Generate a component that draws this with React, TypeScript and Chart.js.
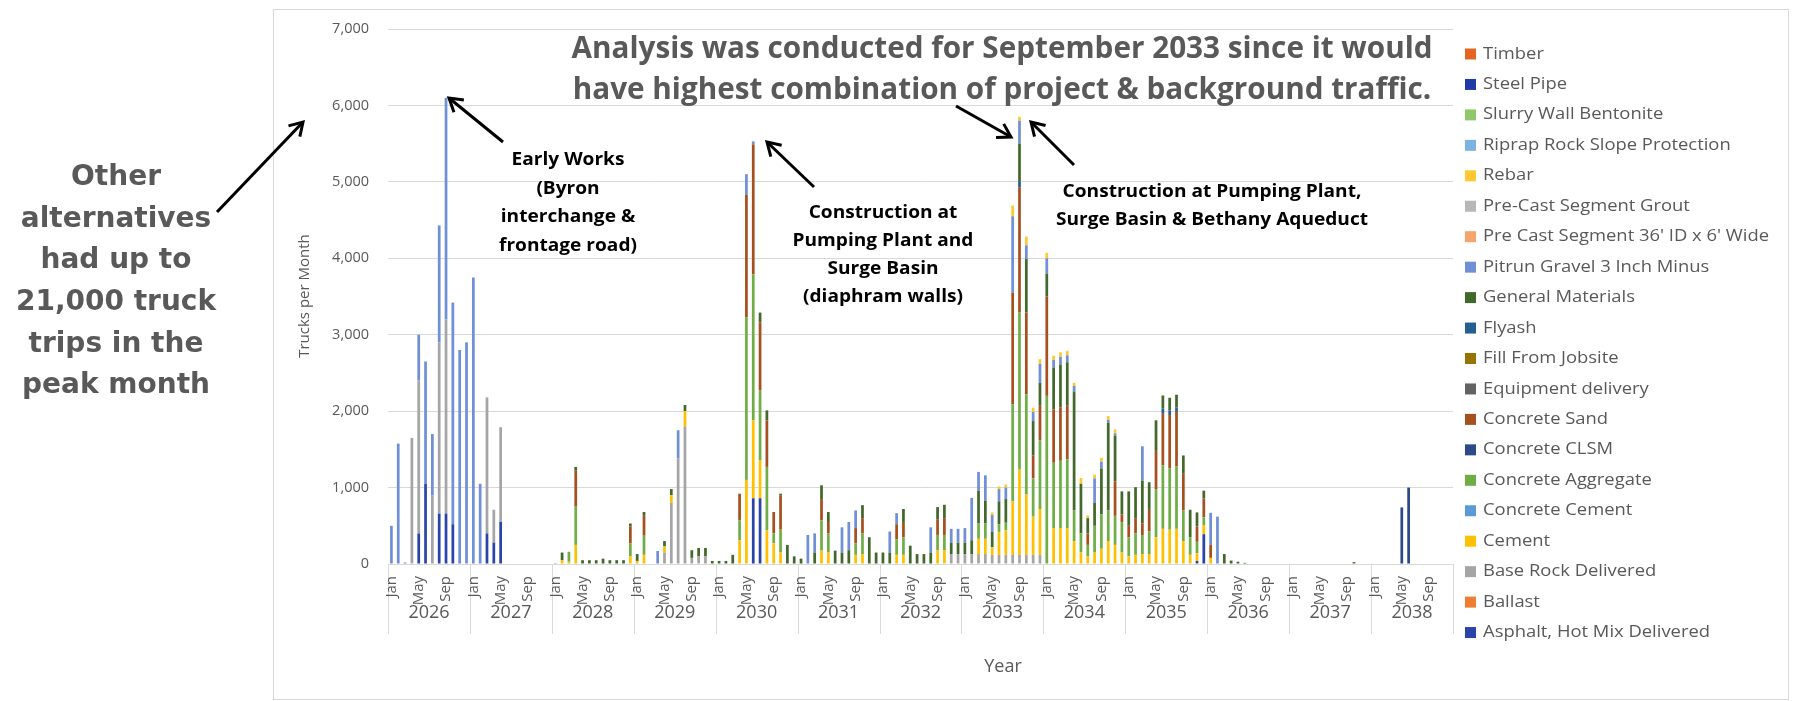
import React, { useEffect, useRef } from "react";
import { Chart, registerables } from "chart.js";

Chart.register(...registerables);

// ---- categories ----
const YEARS = ["2026", "2027", "2028", "2029", "2030", "2031", "2032", "2033", "2034", "2035", "2036", "2037", "2038"];
const MONTHS = ["Jan", "Feb", "Mar", "Apr", "May", "Jun", "Jul", "Aug", "Sep", "Oct", "Nov", "Dec"];
const MONTH_TICKS = ["Jan", "May", "Sep"];
const CATEGORIES = YEARS.flatMap((y) => MONTHS.map((m) => `${m} ${y}`));

const Y_MAX = 7000;
const Y_STEP = 1000;

// ---- trucks per month, one row per year (Jan..Dec) ----
const asphalt = [
  0, 0, 0, 0, 400, 1050, 0, 660, 660, 520, 0, 0,
  0, 0, 400, 280, 550, 0, 0, 0, 0, 0, 0, 0,
  0, 0, 0, 0, 0, 0, 0, 0, 0, 0, 0, 0,
  0, 0, 0, 0, 0, 0, 0, 0, 0, 0, 0, 0,
  0, 0, 0, 0, 0, 860, 860, 0, 0, 0, 0, 0,
  0, 0, 0, 0, 0, 0, 0, 0, 0, 0, 0, 0,
  0, 0, 0, 0, 0, 0, 0, 0, 0, 0, 0, 0,
  0, 0, 0, 0, 0, 0, 0, 0, 0, 0, 0, 0,
  0, 0, 0, 0, 0, 0, 0, 0, 0, 0, 0, 0,
  0, 0, 0, 0, 0, 0, 0, 0, 0, 0, 40, 390,
  0, 0, 0, 0, 0, 0, 0, 0, 0, 0, 0, 0,
  0, 0, 0, 0, 0, 0, 0, 0, 0, 0, 0, 0,
  0, 0, 0, 0, 0, 0, 0, 0, 0, 0, 0, 0,
];
const ballast: number[] = [];
const baseRock = [
  0, 0, 0, 1650, 2000, 0, 900, 2240, 2540, 0, 0, 0,
  0, 0, 1780, 430, 1240, 0, 0, 0, 0, 0, 0, 0,
  0, 0, 0, 0, 0, 0, 0, 0, 0, 0, 0, 0,
  0, 0, 0, 0, 150, 800, 1380, 1800, 80, 100, 100, 0,
  0, 0, 0, 0, 0, 0, 0, 0, 0, 0, 0, 0,
  0, 0, 0, 0, 0, 0, 0, 0, 0, 0, 0, 0,
  0, 0, 0, 0, 0, 0, 0, 0, 0, 0, 130, 130,
  130, 130, 130, 130, 120, 120, 120, 120, 120, 120, 120, 120,
  0, 0, 0, 0, 0, 0, 0, 0, 0, 0, 0, 0,
  0, 0, 0, 0, 0, 0, 0, 0, 0, 0, 0, 0,
  0, 0, 0, 0, 0, 0, 0, 0, 0, 0, 0, 0,
  0, 0, 0, 0, 0, 0, 0, 0, 0, 0, 0, 0,
  0, 0, 0, 0, 0, 0, 0, 0, 0, 0, 0, 0,
];
const cement = [
  0, 0, 0, 0, 0, 0, 0, 0, 0, 0, 0, 0,
  0, 0, 0, 0, 0, 0, 0, 0, 0, 0, 0, 0,
  0, 50, 30, 250, 0, 0, 0, 0, 0, 0, 0, 100,
  40, 120, 0, 0, 80, 100, 0, 200, 0, 0, 0, 0,
  0, 0, 0, 310, 1100, 1020, 500, 440, 270, 150, 0, 0,
  0, 0, 0, 175, 150, 0, 0, 0, 120, 130, 0, 0,
  0, 0, 120, 120, 0, 0, 0, 0, 180, 180, 0, 0,
  0, 0, 200, 200, 100, 300, 320, 700, 1115, 790, 500, 600,
  0, 470, 470, 470, 300, 150, 100, 150, 200, 300, 250, 150,
  100, 120, 130, 130, 350, 460, 450, 460, 300, 120, 100, 120,
  80, 0, 0, 0, 0, 0, 0, 0, 0, 0, 0, 0,
  0, 0, 0, 0, 0, 0, 0, 0, 0, 0, 0, 0,
  0, 0, 0, 0, 0, 0, 0, 0, 0, 0, 0, 0,
];
const concreteCement: number[] = [];
const concreteAggregate = [
  0, 0, 0, 0, 0, 0, 0, 0, 0, 0, 0, 0,
  0, 0, 0, 0, 0, 0, 0, 0, 0, 0, 0, 0,
  0, 0, 130, 500, 0, 0, 0, 0, 0, 0, 0, 170,
  0, 250, 0, 0, 0, 0, 0, 0, 0, 0, 0, 0,
  0, 0, 0, 260, 2130, 1910, 910, 830, 130, 300, 0, 0,
  0, 0, 0, 395, 250, 0, 0, 0, 150, 270, 0, 0,
  0, 0, 200, 230, 0, 0, 0, 0, 200, 200, 0, 0,
  0, 0, 200, 200, 0, 100, 100, 1270, 2055, 1310, 500, 900,
  2200, 855, 880, 900, 400, 250, 150, 350, 450, 400, 380, 400,
  250, 280, 250, 300, 630, 830, 800, 820, 400, 230, 150, 100,
  0, 0, 0, 0, 0, 0, 0, 0, 0, 0, 0, 0,
  0, 0, 0, 0, 0, 0, 0, 0, 0, 0, 0, 0,
  0, 0, 0, 0, 0, 0, 0, 0, 0, 0, 0, 0,
];
const concreteClsm = [
  0, 0, 0, 0, 0, 0, 0, 0, 0, 0, 0, 0,
  0, 0, 0, 0, 0, 0, 0, 0, 0, 0, 0, 0,
  0, 0, 0, 0, 0, 0, 0, 0, 0, 0, 0, 0,
  0, 0, 0, 0, 0, 0, 0, 0, 0, 0, 0, 0,
  0, 0, 0, 0, 0, 0, 0, 0, 0, 0, 0, 0,
  0, 0, 0, 0, 0, 0, 0, 0, 0, 0, 0, 0,
  0, 0, 0, 0, 0, 0, 0, 0, 0, 0, 0, 0,
  0, 0, 0, 0, 0, 0, 0, 0, 0, 0, 0, 0,
  0, 0, 0, 0, 0, 0, 0, 0, 0, 0, 0, 0,
  0, 0, 0, 0, 0, 0, 0, 0, 0, 0, 0, 0,
  0, 0, 0, 0, 0, 0, 0, 0, 0, 0, 0, 0,
  0, 0, 0, 0, 0, 0, 0, 0, 0, 0, 0, 0,
  0, 0, 0, 0, 740, 1000, 0, 0, 0, 0, 0, 0,
];
const concreteSand = [
  0, 0, 0, 0, 0, 0, 0, 0, 0, 0, 0, 0,
  0, 0, 0, 0, 0, 0, 0, 0, 0, 0, 0, 0,
  0, 0, 0, 470, 0, 0, 0, 0, 0, 0, 0, 220,
  0, 270, 0, 0, 0, 0, 0, 0, 0, 0, 0, 0,
  0, 0, 0, 350, 1600, 1700, 890, 610, 280, 450, 0, 0,
  0, 0, 0, 280, 150, 0, 0, 0, 200, 200, 0, 0,
  0, 0, 200, 200, 0, 0, 0, 0, 200, 220, 0, 0,
  0, 0, 0, 0, 0, 0, 0, 1460, 1640, 1070, 300, 450,
  1300, 695, 700, 700, 0, 0, 150, 0, 0, 0, 450, 100,
  150, 200, 150, 290, 500, 675, 700, 710, 480, 0, 200, 250,
  170, 0, 0, 0, 0, 0, 0, 0, 0, 0, 0, 0,
  0, 0, 0, 0, 0, 0, 0, 0, 0, 0, 0, 0,
  0, 0, 0, 0, 0, 0, 0, 0, 0, 0, 0, 0,
];
const equipmentDelivery: number[] = [];
const fillFromJobsite: number[] = [];
const flyash = [
  0, 0, 0, 0, 0, 0, 0, 0, 0, 0, 0, 0,
  0, 0, 0, 0, 0, 0, 0, 0, 0, 0, 0, 0,
  0, 0, 0, 0, 0, 0, 0, 0, 0, 0, 0, 0,
  0, 0, 0, 0, 0, 0, 0, 0, 0, 0, 0, 0,
  0, 0, 0, 0, 0, 0, 0, 0, 0, 0, 0, 0,
  0, 0, 0, 0, 0, 0, 0, 0, 0, 0, 0, 0,
  0, 0, 0, 0, 0, 0, 0, 0, 0, 0, 0, 0,
  0, 0, 0, 0, 0, 0, 0, 0, 70, 0, 0, 0,
  0, 0, 0, 0, 0, 0, 0, 0, 0, 0, 0, 0,
  0, 0, 0, 0, 0, 70, 60, 60, 0, 0, 0, 0,
  0, 0, 0, 0, 0, 0, 0, 0, 0, 0, 0, 0,
  0, 0, 0, 0, 0, 0, 0, 0, 0, 0, 0, 0,
  0, 0, 0, 0, 0, 0, 0, 0, 0, 0, 0, 0,
];
const generalMaterials = [
  0, 0, 0, 0, 0, 0, 0, 0, 0, 0, 0, 0,
  0, 0, 0, 0, 0, 0, 0, 0, 0, 0, 0, 0,
  10, 100, 0, 50, 50, 50, 50, 70, 50, 50, 50, 40,
  90, 40, 0, 0, 70, 80, 0, 80, 100, 110, 110, 40,
  40, 40, 120, 0, 0, 0, 130, 130, 0, 20, 250, 100,
  70, 0, 150, 180, 130, 175, 150, 180, 0, 170, 350, 150,
  150, 150, 0, 170, 240, 130, 130, 150, 165, 175, 150, 150,
  150, 180, 430, 300, 200, 300, 310, 0, 500, 700, 450, 300,
  300, 550, 560, 570, 1550, 650, 200, 300, 600, 1150, 600, 300,
  450, 405, 560, 350, 400, 170, 165, 165, 240, 360, 185, 100,
  0, 0, 130, 45, 30, 15, 0, 0, 0, 0, 0, 0,
  0, 0, 0, 0, 0, 0, 0, 0, 0, 25, 0, 0,
  0, 0, 0, 0, 0, 0, 0, 0, 0, 0, 0, 0,
];
const pitrunGravel = [
  500, 1575, 20, 0, 600, 1600, 800, 1530, 2900, 2900, 2800, 2900,
  3750, 1050, 0, 0, 0, 0, 0, 0, 0, 0, 0, 0,
  0, 0, 0, 0, 0, 0, 0, 0, 0, 0, 0, 0,
  0, 0, 0, 170, 0, 0, 370, 0, 0, 0, 0, 0,
  0, 0, 0, 0, 270, 40, 0, 0, 0, 0, 0, 0,
  0, 380, 250, 0, 0, 0, 330, 370, 230, 0, 0, 0,
  0, 275, 145, 0, 0, 0, 0, 330, 0, 0, 180, 180,
  190, 555, 245, 330, 220, 160, 150, 1000, 300, 180, 120, 250,
  200, 100, 100, 90, 80, 0, 0, 320, 90, 35, 30, 0,
  0, 0, 450, 0, 0, 0, 0, 0, 0, 0, 0, 0,
  420, 620, 0, 0, 0, 0, 0, 0, 0, 0, 0, 0,
  0, 0, 0, 0, 0, 0, 0, 0, 0, 0, 0, 0,
  0, 0, 0, 0, 0, 0, 0, 0, 0, 0, 0, 0,
];
const preCastSegment: number[] = [];
const preCastGrout: number[] = [];
const rebar = [
  0, 0, 0, 0, 0, 0, 0, 0, 0, 0, 0, 0,
  0, 0, 0, 0, 0, 0, 0, 0, 0, 0, 0, 0,
  0, 0, 0, 0, 0, 0, 0, 0, 0, 0, 0, 0,
  0, 0, 0, 0, 0, 0, 0, 0, 0, 0, 0, 0,
  0, 0, 0, 0, 0, 0, 0, 0, 0, 0, 0, 0,
  0, 0, 0, 0, 0, 0, 0, 0, 0, 0, 0, 0,
  0, 0, 0, 0, 0, 0, 0, 0, 0, 0, 0, 0,
  0, 0, 0, 0, 35, 35, 40, 140, 50, 115, 55, 60,
  70, 55, 60, 60, 40, 75, 35, 50, 50, 50, 50, 0,
  0, 0, 0, 0, 0, 0, 0, 0, 0, 0, 0, 0,
  0, 0, 0, 0, 0, 0, 0, 0, 0, 0, 0, 0,
  0, 0, 0, 0, 0, 0, 0, 0, 0, 0, 0, 0,
  0, 0, 0, 0, 0, 0, 0, 0, 0, 0, 0, 0,
];
const riprap: number[] = [];
const slurryWallBentonite: number[] = [];
const steelPipe: number[] = [];
const timber: number[] = [];

// stacked bottom-to-top
const SERIES = [
  { label: "Asphalt, Hot Mix Delivered", color: "#2B44A8", data: asphalt },
  { label: "Ballast", color: "#ED7D31", data: ballast },
  { label: "Base Rock Delivered", color: "#A5A5A5", data: baseRock },
  { label: "Cement", color: "#FFC000", data: cement },
  { label: "Concrete Cement", color: "#5B9BD5", data: concreteCement },
  { label: "Concrete Aggregate", color: "#70AD47", data: concreteAggregate },
  { label: "Concrete CLSM", color: "#2C4A8A", data: concreteClsm },
  { label: "Concrete Sand", color: "#A5501E", data: concreteSand },
  { label: "Equipment delivery", color: "#636363", data: equipmentDelivery },
  { label: "Fill From Jobsite", color: "#997300", data: fillFromJobsite },
  { label: "Flyash", color: "#255E91", data: flyash },
  { label: "General Materials", color: "#43682B", data: generalMaterials },
  { label: "Pitrun Gravel 3 Inch Minus", color: "#6F8FD6", data: pitrunGravel },
  { label: "Pre Cast Segment 36' ID x 6' Wide", color: "#F4A46C", data: preCastSegment },
  { label: "Pre-Cast Segment Grout", color: "#B7B7B7", data: preCastGrout },
  { label: "Rebar", color: "#FFC830", data: rebar },
  { label: "Riprap Rock Slope Protection", color: "#7DB3E2", data: riprap },
  { label: "Slurry Wall Bentonite", color: "#8FC86A", data: slurryWallBentonite },
  { label: "Steel Pipe", color: "#1F3BA6", data: steelPipe },
  { label: "Timber", color: "#E2661F", data: timber },
];

// ---- annotation text ----
const SIDE_NOTE = ["Other", "alternatives", "had up to", "21,000 truck", "trips in the", "peak month"];
const HEADLINE = [
  "Analysis was conducted for September 2033 since it would",
  "have highest combination of project & background traffic.",
];
const NOTE_EARLY = ["Early Works", "(Byron", "interchange &", "frontage road)"];
const NOTE_2030 = ["Construction at", "Pumping Plant and", "Surge Basin", "(diaphram walls)"];
const NOTE_2033 = ["Construction at Pumping Plant,", "Surge Basin & Bethany Aqueduct"];

// ---- layout ----
const W = 1793;
const H = 701;
const AREA = { left: 388, right: 1453, top: 29, bottom: 564 };
const GRID = "#d9d9d9";
const GREY_TEXT = "#595959";
const OPEN = "'Open Sans', 'Noto Sans', sans-serif";

function fitScale(ctx: CanvasRenderingContext2D, font: string, text: string, target: number) {
  ctx.font = font;
  return target / ctx.measureText(text).width;
}

function drawScaled(ctx: CanvasRenderingContext2D, text: string, x: number, y: number, sx: number, align: CanvasTextAlign) {
  ctx.save();
  ctx.translate(x, y);
  ctx.scale(sx, 1);
  ctx.textAlign = align;
  ctx.fillText(text, 0, 0);
  ctx.restore();
}

function drawArrow(ctx: CanvasRenderingContext2D, x1: number, y1: number, x2: number, y2: number) {
  const a = Math.atan2(y2 - y1, x2 - x1);
  const len = 15;
  const spread = 0.55;
  ctx.beginPath();
  ctx.moveTo(x1, y1);
  ctx.lineTo(x2, y2);
  ctx.stroke();
  ctx.beginPath();
  ctx.moveTo(x2 - len * Math.cos(a - spread), y2 - len * Math.sin(a - spread));
  ctx.lineTo(x2, y2);
  ctx.lineTo(x2 - len * Math.cos(a + spread), y2 - len * Math.sin(a + spread));
  ctx.stroke();
}

const decorPlugin = {
  id: "decor",
  beforeDraw(chart: Chart) {
    const ctx = chart.ctx;
    ctx.save();
    ctx.fillStyle = "#ffffff";
    ctx.fillRect(0, 0, chart.width, chart.height);
    ctx.strokeStyle = GRID;
    ctx.lineWidth = 1;
    ctx.strokeRect(273.5, 9.5, 1515, 690);
    ctx.restore();
  },
  afterDraw(chart: Chart) {
    const ctx = chart.ctx;
    const xs = chart.scales.x;
    const ca = chart.chartArea;
    const step = xs.getPixelForValue(1) - xs.getPixelForValue(0);
    const boundary = (k: number) => xs.getPixelForValue(k * 12) - step / 2;

    ctx.save();
    // year separators below the axis
    ctx.strokeStyle = GRID;
    ctx.lineWidth = 1;
    for (let k = 0; k <= YEARS.length; k++) {
      const x = Math.round(boundary(k)) + 0.5;
      ctx.beginPath();
      ctx.moveTo(x, ca.bottom);
      ctx.lineTo(x, 634);
      ctx.stroke();
    }

    // month ticks (rotated) and year labels
    ctx.fillStyle = GREY_TEXT;
    ctx.font = `15px ${OPEN}`;
    ctx.textBaseline = "middle";
    YEARS.forEach((year, k) => {
      MONTH_TICKS.forEach((m) => {
        const idx = k * 12 + MONTHS.indexOf(m);
        const x = xs.getPixelForValue(idx);
        ctx.save();
        ctx.translate(x, 576);
        ctx.rotate(-Math.PI / 2);
        ctx.textAlign = "right";
        ctx.fillText(m, 0, 0);
        ctx.restore();
      });
    });
    ctx.font = `18px ${OPEN}`;
    ctx.textAlign = "center";
    YEARS.forEach((year, k) => {
      ctx.fillText(year, (boundary(k) + boundary(k + 1)) / 2, 613);
    });
    ctx.fillText("Year", 1003, 667);

    // y axis title
    ctx.save();
    ctx.font = `15px ${OPEN}`;
    ctx.translate(305, 296);
    ctx.rotate(-Math.PI / 2);
    ctx.textAlign = "center";
    ctx.fillText("Trucks per Month", 0, 0);
    ctx.restore();

    // legend, top entry is the last series in the stack
    const legendFont = `16px ${OPEN}`;
    const lsx = fitScale(ctx, legendFont, "Pre Cast Segment 36' ID x 6' Wide", 286);
    ctx.font = legendFont;
    ctx.textBaseline = "middle";
    const ds = chart.data.datasets;
    for (let i = 0; i < ds.length; i++) {
      const d = ds[ds.length - 1 - i];
      const y = 54 + i * 30.45;
      ctx.fillStyle = d.backgroundColor as string;
      ctx.fillRect(1465, y - 5.5, 11, 11);
      ctx.fillStyle = GREY_TEXT;
      drawScaled(ctx, d.label as string, 1483, y, lsx, "left");
    }

    // side note
    ctx.fillStyle = GREY_TEXT;
    ctx.font = `bold 28px 'DejaVu Sans', Verdana, sans-serif`;
    ctx.textAlign = "center";
    SIDE_NOTE.forEach((t, i) => ctx.fillText(t, 116, 178 + i * 41.6));

    // headline
    const headFont = `bold 31px ${OPEN}`;
    const hsx = fitScale(ctx, headFont, HEADLINE[0], 861);
    ctx.font = headFont;
    drawScaled(ctx, HEADLINE[0], 1002, 49, hsx, "center");
    drawScaled(ctx, HEADLINE[1], 1002, 90, hsx, "center");

    // callouts
    const noteFont = `bold 18.5px ${OPEN}`;
    const nsx = fitScale(ctx, noteFont, NOTE_2033[1], 312);
    ctx.font = noteFont;
    ctx.fillStyle = "#000000";
    NOTE_EARLY.forEach((t, i) => drawScaled(ctx, t, 568, [160, 189, 217, 246][i], nsx, "center"));
    NOTE_2030.forEach((t, i) => drawScaled(ctx, t, 883, [213, 241, 269, 297][i], nsx, "center"));
    NOTE_2033.forEach((t, i) => drawScaled(ctx, t, 1212, [192, 220][i], nsx, "center"));

    // arrows
    ctx.strokeStyle = "#000000";
    ctx.lineWidth = 3;
    ctx.lineCap = "butt";
    ctx.lineJoin = "miter";
    drawArrow(ctx, 217, 212, 303, 122);
    drawArrow(ctx, 503, 142, 449, 98);
    drawArrow(ctx, 814, 187, 767, 142);
    drawArrow(ctx, 956, 106, 1011, 137);
    drawArrow(ctx, 1074, 165, 1031, 122);
    ctx.restore();
  },
};

export default function App() {
  const canvasRef = useRef<HTMLCanvasElement | null>(null);

  useEffect(() => {
    const canvas = canvasRef.current;
    if (!canvas) return;
    const Y_SCALE_WIDTH = 60;
    const X_SCALE_HEIGHT = 10;
    const chart = new Chart(canvas, {
      type: "bar",
      data: {
        labels: CATEGORIES,
        datasets: SERIES.map((s) => ({
          label: s.label,
          data: s.data,
          backgroundColor: s.color,
          borderWidth: 0,
          barPercentage: 0.4,
          categoryPercentage: 1,
        })),
      },
      options: {
        responsive: false,
        animation: false,
        events: [],
        layout: {
          padding: {
            left: AREA.left - Y_SCALE_WIDTH,
            right: W - AREA.right,
            top: AREA.top,
            bottom: H - AREA.bottom - X_SCALE_HEIGHT,
          },
        },
        plugins: {
          legend: { display: false },
          tooltip: { enabled: false },
        },
        scales: {
          x: {
            stacked: true,
            grid: { display: false },
            border: { display: false },
            ticks: { display: false },
            afterFit: (scale: any) => {
              scale.height = X_SCALE_HEIGHT;
            },
          },
          y: {
            stacked: true,
            min: 0,
            max: Y_MAX,
            grid: { color: GRID, lineWidth: 1, drawTicks: false },
            border: { display: false },
            ticks: {
              stepSize: Y_STEP,
              padding: 19,
              color: GREY_TEXT,
              font: { family: "'Open Sans', 'Noto Sans', sans-serif", size: 14.5 },
              callback: (v: any) => Number(v).toLocaleString("en-US"),
            },
            afterFit: (scale: any) => {
              scale.width = Y_SCALE_WIDTH;
            },
          },
        },
      },
      plugins: [decorPlugin],
    });
    return () => chart.destroy();
  }, []);

  return (
    <div style={{ position: "absolute", left: 0, top: 0, width: W, height: H, background: "#fff" }}>
      <canvas ref={canvasRef} width={W} height={H} style={{ display: "block", width: W, height: H }} />
    </div>
  );
}
